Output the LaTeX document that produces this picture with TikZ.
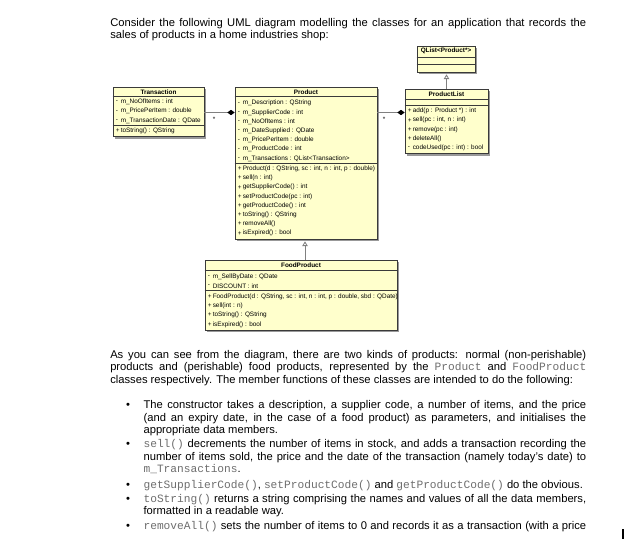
\documentclass[tikz,border=0pt]{standalone}
\usepackage{fontspec}
\setmainfont{Liberation Sans}
\setmonofont{Liberation Mono}
\usetikzlibrary{arrows.meta,shadows,fit}
\definecolor{umlfill}{HTML}{FFFFCC}
\definecolor{umlline}{HTML}{3A3A3A}
\definecolor{conn}{HTML}{808080}
\definecolor{codegray}{HTML}{6E6E6E}
\newcommand{\mono}[1]{{\ttfamily\color{codegray}#1}}
% row in a class box: name, box-left x, y, marker, text
\newcommand{\urow}[5]{\node[umltxt] (#1m) at (#2+2.5,#3) {#4};\node[umltxt] (#1) at (#2+7.5,#3) {#5};}
\begin{document}
\begin{tikzpicture}[x=0.75pt,y=-0.75pt,
  classbox/.style={draw=umlline, fill=umlfill, line width=0.5pt, inner sep=0pt,
    drop shadow={shadow xshift=1.5pt, shadow yshift=-1.5pt, fill=black!40, opacity=1}},
  umltxt/.style={font=\fontsize{4.8}{5}\selectfont, inner sep=0pt, anchor=west},
  umltitle/.style={font=\fontsize{4.8}{5}\selectfont\bfseries, inner sep=0pt},
  sepline/.style={draw=umlline, line width=0.4pt},
  body/.style={font=\fontsize{8.4}{10}\selectfont, inner sep=0pt, anchor=base west},
  compo/.style={draw=conn, line width=0.6pt, -{Diamond[length=5.5pt,width=4pt,color=black,fill=black]}},
  inherit/.style={draw=conn, line width=0.6pt, -{Triangle[open,length=3.5pt,width=4pt,color=conn]}},
  mult/.style={font=\fontsize{4.8}{5}\selectfont, inner sep=0pt}
]
\fill[white] (0,0) rectangle (629,550);
\useasboundingbox (0,0) rectangle (629,550);

% ---------- text above ----------
\node[body] (p1a) at (110,26) {\makebox[357pt][s]{Consider the following UML diagram modelling the classes for an application that records the}};
\node[body] (p1b) at (110,38.5) {sales of products in a home industries shop:};

% ---------- Transaction ----------
\node[classbox, fit={(113,87) (204,136.7)}] (trans) {};
\node[umltitle] (transT) at (158.5,91.8) {Transaction};
\draw[sepline] (trans.west |- 0,96.5) -- (trans.east |- 0,96.5);
\draw[sepline] (trans.west |- 0,125.3) -- (trans.east |- 0,125.3);
\urow{ta}{113}{102}{-}{m\_NoOfItems : int}
\urow{tb}{113}{111.2}{-}{m\_PricePerItem : double}
\urow{tc}{113}{120.4}{-}{m\_TransactionDate : QDate}
\urow{td}{113}{131}{+}{toString() : QString}

% ---------- Product ----------
\node[classbox, fit={(235,87) (377,239)}] (prod) {};
\node[umltitle] (prodT) at (306,91.8) {Product};
\draw[sepline] (prod.west |- 0,96.5) -- (prod.east |- 0,96.5);
\draw[sepline] (prod.west |- 0,163) -- (prod.east |- 0,163);
\urow{pa}{235}{103.3}{-}{m\_Description : QString}
\urow{pb}{235}{112.5}{-}{m\_SupplierCode : int}
\urow{pc}{235}{121.7}{-}{m\_NoOfItems : int}
\urow{pd}{235}{130.9}{-}{m\_DateSupplied : QDate}
\urow{pe}{235}{140.1}{-}{m\_PricePerItem : double}
\urow{pf}{235}{149.3}{-}{m\_ProductCode : int}
\urow{pg}{235}{158.5}{-}{m\_Transactions : QList<Transaction>}
\urow{ph}{235}{168.8}{+}{Product(d : QString, sc : int, n : int, p : double)}
\urow{pi}{235}{178.0}{+}{sell(n : int)}
\urow{pj}{235}{187.2}{+}{getSupplierCode() : int}
\urow{pk}{235}{196.4}{+}{setProductCode(pc : int)}
\urow{pl}{235}{205.6}{+}{getProductCode() : int}
\urow{pm}{235}{214.8}{+}{toString() : QString}
\urow{pn}{235}{224.0}{+}{removeAll()}
\urow{po}{235}{233.2}{+}{isExpired() : bool}

% ---------- QList<Product*> ----------
\node[classbox, fit={(417,46) (475,72)}] (qlist) {};
\node[umltitle] (qlistT) at (446,51.3) {QList<Product*>};
\draw[sepline] (qlist.west |- 0,57) -- (qlist.east |- 0,57);
\draw[sepline] (qlist.west |- 0,64.5) -- (qlist.east |- 0,64.5);

% ---------- ProductList ----------
\node[classbox, fit={(405,89) (488,153.5)}] (plist) {};
\node[umltitle] (plistT) at (446.5,94) {ProductList};
\draw[sepline] (plist.west |- 0,99) -- (plist.east |- 0,99);
\draw[sepline] (plist.west |- 0,105.5) -- (plist.east |- 0,105.5);
\urow{la}{405}{111.0}{+}{add(p : Product *) : int}
\urow{lb}{405}{120.2}{+}{sell(pc : int, n : int)}
\urow{lc}{405}{129.4}{+}{remove(pc : int)}
\urow{ld}{405}{138.6}{+}{deleteAll()}
\urow{le}{405}{147.8}{-}{codeUsed(pc : int) : bool}

% ---------- FoodProduct ----------
\node[classbox, fit={(205,260) (397,330)}] (food) {};
\node[umltitle] (foodT) at (301,265) {FoodProduct};
\draw[sepline] (food.west |- 0,270) -- (food.east |- 0,270);
\draw[sepline] (food.west |- 0,290.5) -- (food.east |- 0,290.5);
\urow{fa}{205}{276.5}{-}{m\_SellByDate : QDate}
\urow{fb}{205}{285.8}{-}{DISCOUNT : int}
\urow{fc}{205}{296.5}{+}{FoodProduct(d : QString, sc : int, n : int, p : double, sbd : QDate)}
\urow{fd}{205}{305.8}{+}{sell(int : n)}
\urow{fe}{205}{315.1}{+}{toString() : QString}
\urow{ff}{205}{324.4}{+}{isExpired() : bool}

% ---------- connectors ----------
\coordinate (cy) at (0,112.5);
\draw[compo] (trans.east |- cy) -- (prod.west |- cy);
\node[mult] (m1) at (214,119) {*};
\draw[compo] (prod.east |- cy) -- (plist.west |- cy);
\node[mult] (m2) at (384,119) {*};
\coordinate (ix1) at (305,0);
\draw[inherit] (ix1 |- food.north) -- ([yshift=-1.5pt]ix1 |- prod.south);
\coordinate (ix2) at (446.5,0);
\draw[inherit] (ix2 |- plist.north) -- ([yshift=-1.5pt]ix2 |- qlist.south);

% ---------- text below ----------
\node[body] (p2a) at (110,358.5) {\makebox[357pt][s]{As you can see from the diagram, there are two kinds of products: normal (non-perishable)}};
\node[body] (p2b) at (110,370.8) {\makebox[357pt][s]{products and (perishable) food products, represented by the \mono{Product} and \mono{FoodProduct}}};
\node[body] (p2c) at (110,383) {classes respectively. The member functions of these classes are intended to do the following:};

\node[body, anchor=base] (b1) at (128,408.5) {\textbullet};
\node[body] (b1a) at (143.3,408.5) {\makebox[332pt][s]{The constructor takes a description, a supplier code, a number of items, and the price}};
\node[body] (b1b) at (143.3,421) {\makebox[332pt][s]{(and an expiry date, in the case of a food product) as parameters, and initialises the}};
\node[body] (b1c) at (143.3,433.5) {appropriate data members.};

\node[body, anchor=base] (b2) at (128,447) {\textbullet};
\node[body] (b2a) at (143.3,447) {\makebox[332pt][s]{\mono{sell()} decrements the number of items in stock, and adds a transaction recording the}};
\node[body] (b2b) at (143.3,460) {\makebox[332pt][s]{number of items sold, the price and the date of the transaction (namely today’s date) to}};
\node[body] (b2c) at (143.3,472.5) {\mono{m\_Transactions}.};

\node[body, anchor=base] (b3) at (128,488) {\textbullet};
\node[body] (b3a) at (143.3,488) {\makebox[329.5pt][s]{\mono{getSupplierCode()}, \mono{setProductCode()} and \mono{getProductCode()} do the obvious.}};

\node[body, anchor=base] (b4) at (128,502) {\textbullet};
\node[body] (b4a) at (143.3,502) {\makebox[332pt][s]{\mono{toString()} returns a string comprising the names and values of all the data members,}};
\node[body] (b4b) at (143.3,514.5) {formatted in a readable way.};

\node[body, anchor=base] (b5) at (128,529) {\textbullet};
\node[body] (b5a) at (143.3,529) {\makebox[332pt][s]{\mono{removeAll()} sets the number of items to 0 and records it as a transaction (with a price}};

\draw[line width=0.8pt] (623,529) -- (623,539);
\end{tikzpicture}
\end{document}
